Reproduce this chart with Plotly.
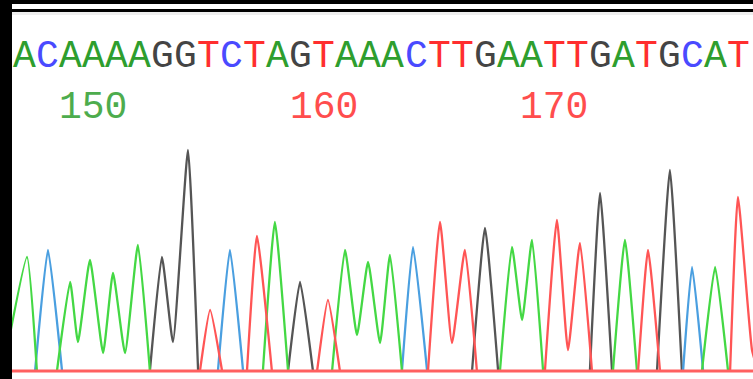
import plotly.graph_objects as go

# Base calls (position numbers 147..178)
first_position = 147
sequence = "ACAAAAGGTCTAGTAAACTTGAATTGATGCAT"
tick_positions = [150, 160, 170]

# Trace vertices per channel: position (base units) and signal intensity
a_pos = [145.90, 146.09, 147.13, 147.56, 148.43, 149.00, 149.34, 149.86, 150.43, 150.86, 151.38, 151.94, 152.46,
         157.36, 157.88, 158.45,
         160.36, 160.92, 161.44, 161.92, 162.44, 162.87, 163.39,
         167.64, 168.16, 168.60, 169.03, 169.51,
         172.54, 173.06, 173.58,
         176.40, 176.97, 177.53, 179.00]
a_sig = [0, 0, 1140, 0, 0, 890, 290, 1110, 180, 980, 180, 1260, 0,
         0, 1490, 0,
         0, 1210, 360, 1090, 280, 1160, 0,
         0, 1240, 510, 1310, 0,
         0, 1310, 0,
         0, 1040, 0, 0]

c_pos = [145.90, 147.48, 148.04, 148.65, 155.41, 155.93, 156.50, 163.39, 163.87, 164.48,
         175.58, 175.97, 176.45, 179.00]
c_sig = [0, 0, 1210, 0, 0, 1210, 0, 0, 1240, 0,
         0, 1040, 0, 0]

g_pos = [145.90, 152.46, 152.98, 153.46, 154.11, 154.55,
         158.45, 158.97, 159.53,
         166.43, 166.99, 167.56,
         171.54, 171.98, 172.50,
         174.45, 175.01, 175.53, 179.00]
g_sig = [0, 0, 1140, 290, 2210, 0,
         0, 890, 0,
         0, 1430, 0,
         0, 1780, 0,
         0, 2010, 0, 0]

t_pos = [145.90, 154.63, 155.07, 155.59, 156.67, 157.10, 157.75,
         159.71, 160.18, 160.70,
         164.52, 165.04, 165.56, 166.12, 166.64,
         169.59, 170.11, 170.59, 171.11, 171.63,
         173.63, 174.06, 174.58,
         177.62, 177.96, 178.57, 178.83, 179.00]
t_sig = [0, 0, 610, 0, 0, 1350, 0,
         0, 710, 0,
         0, 1490, 280, 1210, 0,
         0, 1510, 210, 1280, 0,
         0, 1210, 0,
         0, 1740, 210, 0, 0]

trace_colors = {"A": "#44d844", "C": "#4a9fe0", "G": "#555555", "T": "#ff5555"}
text_colors = {"A": "#2e9e2e", "C": "#4a4aff", "G": "#444444", "T": "#ff2e2e"}


def split_baseline(xs, ys):
    """Break a channel into peak groups at flat zero stretches (so the spline cannot dip below 0)."""
    ox, oy = [], []
    for i, (x, y) in enumerate(zip(xs, ys)):
        if i > 0 and y == 0 and ys[i - 1] == 0:
            ox.append(None)
            oy.append(None)
        ox.append(x)
        oy.append(y)
    return ox, oy


fig = go.Figure()
for base, xs, ys in [("G", g_pos, g_sig), ("C", c_pos, c_sig), ("A", a_pos, a_sig), ("T", t_pos, t_sig)]:
    sx, sy = split_baseline(xs, ys)
    fig.add_trace(go.Scatter(x=sx, y=sy, mode="lines", name=base, connectgaps=False,
                             line=dict(color=trace_colors[base], width=2.3, shape="spline", smoothing=0.45),
                             hoverinfo="skip"))

annotations = []
for i, b in enumerate(sequence):
    annotations.append(dict(x=first_position + i, y=3150, xref="x", yref="y", text=b, showarrow=False,
                            font=dict(family="Liberation Mono", size=38, color=text_colors[b]),
                            xanchor="center", yanchor="middle"))
for p in tick_positions:
    b = sequence[p - first_position]
    annotations.append(dict(x=p, y=2640, xref="x", yref="y", text=str(p), showarrow=False,
                            font=dict(family="Liberation Mono", size=38, color=text_colors[b]),
                            xanchor="center", yanchor="middle", opacity=0.85))

W, H = 753, 379
PH = H - 4  # plot-area height (top margin 4 px is the black frame)
shapes = [
    dict(type="rect", xref="paper", yref="paper", x0=0, x1=1, y0=1 - 8 / PH, y1=1 - 5 / PH,
         fillcolor="black", line=dict(width=0), layer="above"),
    dict(type="rect", xref="paper", yref="paper", x0=0, x1=1, y0=1 - 11 / PH, y1=1 - 8 / PH,
         fillcolor="#eeeeee", line=dict(width=0), layer="above"),
    dict(type="line", xref="paper", yref="y", x0=0, x1=1, y0=0, y1=0,
         line=dict(color="#ff6060", width=3), layer="above"),
]

fig.update_layout(
    width=W, height=H, margin=dict(l=12, r=0, t=4, b=0, pad=0),
    paper_bgcolor="black", plot_bgcolor="white", showlegend=False,
    xaxis=dict(range=[146.4796, 178.613], visible=False, showgrid=False, zeroline=False),
    yaxis=dict(range=[-80, 3670], visible=False, showgrid=False, zeroline=False),
    annotations=annotations, shapes=shapes,
)
fig.write_html("out.html", config={"displayModeBar": False},
               post_script="document.body.style.margin='0';document.body.style.overflow='hidden';")
